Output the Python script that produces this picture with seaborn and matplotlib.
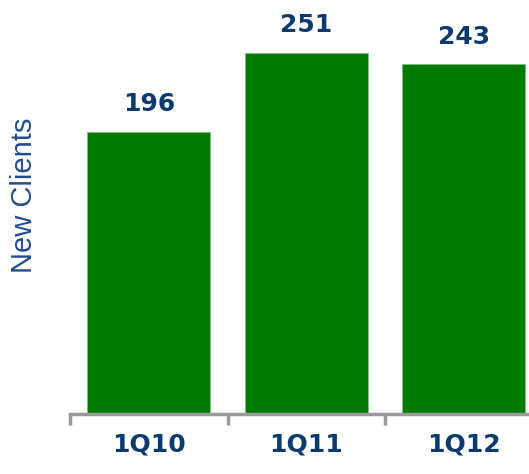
import matplotlib
matplotlib.use("Agg")
import matplotlib.pyplot as plt
import seaborn as sns
import pandas as pd

categories = ["1Q10", "1Q11", "1Q12"]
values = [196, 251, 243]

sns.set_style("white")
plt.rcParams['font.family'] = ['DejaVu Sans']

W, H = 529, 474
fig = plt.figure(figsize=(W / 100, H / 100), dpi=100)
left, right = 70, 542.5
base, top = 414, 39.6
ax = fig.add_axes([left / W, (H - base) / H, (right - left) / W, (base - top) / H])

df = pd.DataFrame({"q": categories, "v": values})
sns.barplot(data=df, x="q", y="v", ax=ax, color="#007A00", saturation=1,
            width=0.78, edgecolor="#7FBF7F", linewidth=0.6)
ax.set_ylim(0, 260)
ax.set_xlim(-0.5, 2.5)

navy = "#0B3B6E"
for i, v in enumerate(values):
    ax.annotate(str(v), (i, v), xytext=(0, 11), textcoords="offset points",
                ha="center", va="bottom", fontsize=18, fontweight="bold", color=navy)

for s in ["top", "right", "left"]:
    ax.spines[s].set_visible(False)
ax.spines["bottom"].set_color("#999999")
ax.spines["bottom"].set_linewidth(2.5)
ax.set_yticks([])
ax.set_xticks(range(len(categories)))
ax.set_xticklabels(categories, fontsize=18, fontweight="bold", color=navy)
ax.tick_params(axis="x", which="major", length=0, pad=13)
ax.set_xticks([-0.5, 0.5, 1.5, 2.5], minor=True)
ax.tick_params(axis="x", which="minor", bottom=True, length=8, width=2.5,
               color="#999999", direction="out")
ax.set_xlabel("")
ax.set_ylabel("New Clients", fontsize=21, color="#1F4E8C", family="Liberation Sans")
ax.yaxis.set_label_coords(-32 / (right - left), (base - 195) / (base - top))

fig.savefig("out.png", dpi=100)
